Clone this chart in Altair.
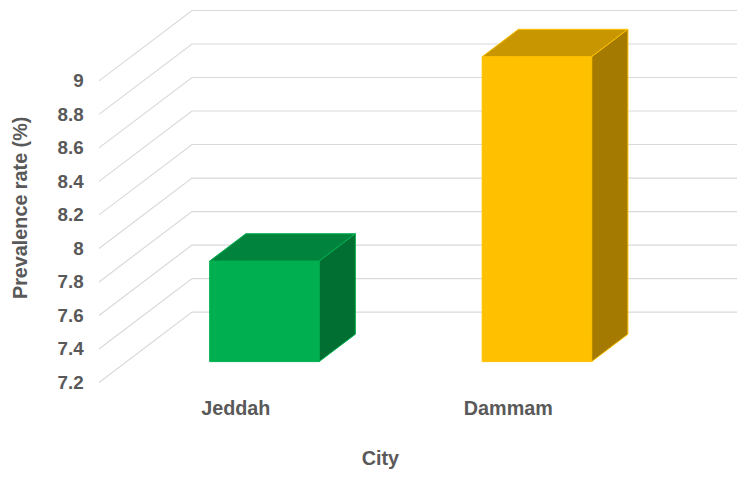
import altair as alt
import pandas as pd

# ---- data ----
cities = ["Jeddah", "Dammam"]
prevalence = [7.8, 9.02]
front_colors = ["#00B050", "#FFC000"]
top_colors = ["#00843D", "#C89600"]
side_colors = ["#006F31", "#A47B00"]
edge_colors = ["#00B050", "#FFC000"]
y_ticks = [7.2, 7.4, 7.6, 7.8, 8.0, 8.2, 8.4, 8.6, 8.8, 9.0]

# ---- pseudo-3D projection parameters (in data units) ----
FLOOR = 7.2
DEPTH_X = 0.3412   # horizontal shift of the back wall, in category-band units
DEPTH_Y = 0.42     # vertical shift of the back wall, in value units
T0, T1 = 0.296, 0.685  # bar front / back depth (fraction of full depth)
BAR_L, BAR_R = 0.305, 0.707  # bar extent inside its band

TEXT = "#595959"
FONT = "Liberation Sans"

xs = alt.Scale(domain=[0, len(cities) + DEPTH_X], nice=False, zero=False)
ys = alt.Scale(domain=[FLOOR, y_ticks[-1] + DEPTH_Y], nice=False, zero=False)

label_list = "[" + ",".join("'" + c + "'" for c in cities) + "]"
x_axis = alt.Axis(
    values=[i + 0.5 for i in range(len(cities))],
    labelExpr=label_list + "[floor(datum.value)]",
    ticks=False, domain=False, grid=False,
    labelPadding=16, labelFontSize=20,
    title="City", titleFontSize=20,
    titleX=284, titleY=83, titleAlign="center", titleBaseline="alphabetic",
)
y_axis = alt.Axis(
    values=y_ticks, format="~g",
    ticks=False, domain=False, grid=False,
    labelPadding=16, labelFontSize=19,
    title="Prevalence rate (%)", titleFontSize=20,
    titleX=-79, titleY=199, titleAngle=-90, titleAlign="center", titleBaseline="middle",
)

X = alt.X("x:Q", scale=xs, axis=x_axis)
Y = alt.Y("y:Q", scale=ys, axis=y_axis)

# gridlines: left wall diagonal + back wall horizontal
grid_rows = []
for lvl in y_ticks:
    grid_rows.append({"lvl": lvl, "k": 0, "x": 0.0, "y": lvl})
    grid_rows.append({"lvl": lvl, "k": 1, "x": DEPTH_X, "y": lvl + DEPTH_Y})
    grid_rows.append({"lvl": lvl, "k": 2, "x": len(cities) + DEPTH_X, "y": lvl + DEPTH_Y})
grid_df = pd.DataFrame(grid_rows)

layers = [
    alt.Chart(grid_df).mark_line(color="#D9D9D9", strokeWidth=1.2).encode(
        x=X, y=Y, detail="lvl:N", order="k:Q"
    )
]

for i, (c, v) in enumerate(zip(cities, prevalence)):
    x0f = i + BAR_L + T0 * DEPTH_X
    x1f = i + BAR_R + T0 * DEPTH_X
    dxd = (T1 - T0) * DEPTH_X
    bf, bb = FLOOR + T0 * DEPTH_Y, FLOOR + T1 * DEPTH_Y
    vf, vb = v + T0 * DEPTH_Y, v + T1 * DEPTH_Y

    front_df = pd.DataFrame([{"x": x0f, "x2": x1f, "y": bf, "y2": vf}])
    top_df = pd.DataFrame([
        {"x": x0f, "y": vf, "y2": vf},
        {"x": x0f + dxd, "y": vf, "y2": vb},
        {"x": x1f, "y": vf, "y2": vb},
        {"x": x1f + dxd, "y": vb, "y2": vb},
    ])
    side_df = pd.DataFrame([
        {"x": x1f, "y": bf, "y2": vf},
        {"x": x1f + dxd, "y": bb, "y2": vb},
    ])

    layers.append(
        alt.Chart(front_df).mark_rect(
            fill=front_colors[i], stroke=edge_colors[i], strokeWidth=1
        ).encode(x=X, x2="x2:Q", y=Y, y2="y2:Q")
    )
    layers.append(
        alt.Chart(top_df).mark_area(
            fill=top_colors[i], stroke=edge_colors[i], strokeWidth=1, opacity=1
        ).encode(x=X, y=Y, y2="y2:Q")
    )
    layers.append(
        alt.Chart(side_df).mark_area(
            fill=side_colors[i], stroke=edge_colors[i], strokeWidth=1, opacity=1
        ).encode(x=X, y=Y, y2="y2:Q")
    )

chart = alt.layer(*layers).properties(
    width=645, height=376,
    autosize=alt.AutoSizeParams(type="none"),
    padding={"left": 92, "top": 0, "right": 5, "bottom": 86},
    background="white",
).configure_view(stroke=None).configure_axis(
    labelFont=FONT, titleFont=FONT, labelFontWeight="bold", titleFontWeight="bold",
    labelColor=TEXT, titleColor=TEXT,
)

chart.save("out.html", embed_options={"renderer": "svg", "actions": False})
